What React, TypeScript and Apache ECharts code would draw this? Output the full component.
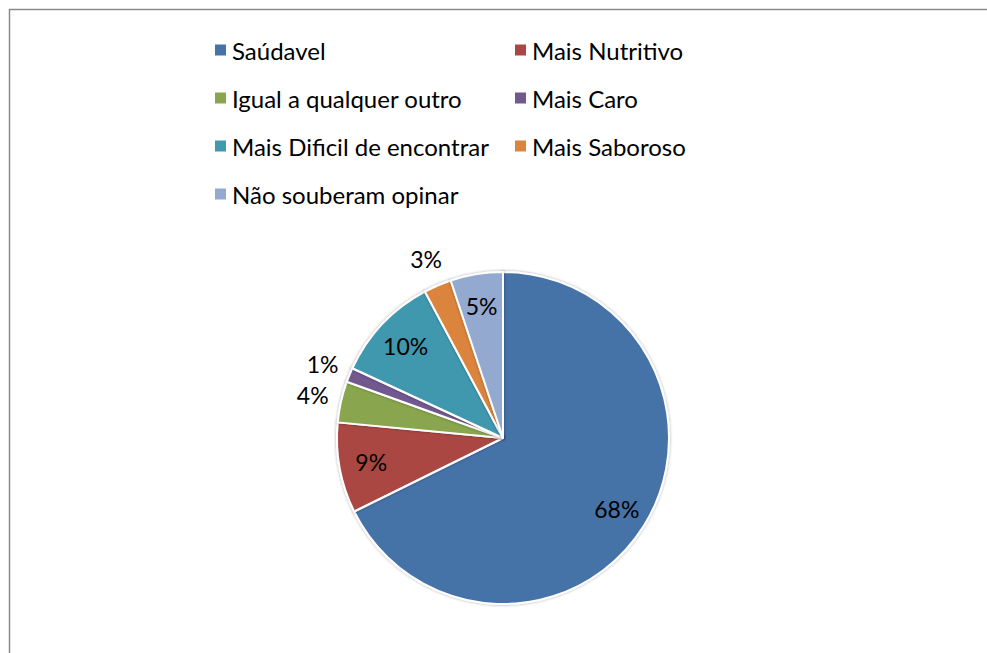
import React, { useEffect, useRef } from "react";
import * as echarts from "echarts";

const categories = [
  "Saúdavel",
  "Mais Nutritivo",
  "Igual a qualquer outro",
  "Mais Caro",
  "Mais Dificil de encontrar",
  "Mais Saboroso",
  "Não souberam opinar",
];
const values = [67.7, 8.8, 4.0, 1.4, 10.3, 2.7, 5.1];
const colors = ["#4572A7", "#AA4643", "#89A54E", "#71588F", "#4198AF", "#DB843D", "#93A9CF"];
const outsideLabelNames = ["Igual a qualquer outro", "Mais Caro", "Mais Saboroso"];
const leftLegendNames = ["Saúdavel", "Igual a qualquer outro", "Mais Dificil de encontrar", "Não souberam opinar"];
const rightLegendNames = ["Mais Nutritivo", "Mais Caro", "Mais Saboroso"];

const FONT = "Lato, 'Open Sans', sans-serif";
const CENTER: [number, number] = [503, 438];
const R = 166;

export default function App() {
  const ref = useRef<HTMLDivElement>(null);
  useEffect(() => {
    if (!ref.current) return;
    const chart = echarts.init(ref.current, undefined, { renderer: "svg" });
    const fmt = (p: any) => Math.round(p.percent) + "%";
    const baseData = categories.map((name, i) => ({
      name,
      value: values[i],
      itemStyle: { color: colors[i] },
    }));
    const overlay = (inside: boolean) =>
      categories.map((name, i) => ({
        name,
        value: values[i],
        itemStyle: { color: "rgba(0,0,0,0)", borderWidth: 0 },
        label: { show: inside ? !outsideLabelNames.includes(name) : outsideLabelNames.includes(name) },
      }));
    const legendCommon = {
      orient: "vertical" as const,
      icon: "rect",
      itemWidth: 13,
      itemHeight: 13,
      itemGap: 24,
      padding: 0,
      selectedMode: false,
      textStyle: { fontFamily: FONT, fontSize: 24, color: "#000", lineHeight: 24 },
    };
    const legendData = (names: string[]) =>
      names.map((n) => ({ name: n, itemStyle: { color: colors[categories.indexOf(n)] } }));
    const labelStyle = {
      position: "inside" as const,
      formatter: fmt,
      fontFamily: FONT,
      fontSize: 23,
      color: "#000",
    };
    chart.setOption({
      animation: false,
      backgroundColor: "#fff",
      graphic: [
        {
          type: "rect",
          shape: { x: 9.5, y: 9.5, width: 1200, height: 1200 },
          style: { fill: "none", stroke: "#8a8a8a", lineWidth: 1.5 },
          silent: true,
        },
      ],
      legend: [
        { ...legendCommon, left: 213, top: 38, data: legendData(leftLegendNames) },
        { ...legendCommon, left: 513, top: 38, data: legendData(rightLegendNames) },
      ],
      series: [
        {
          type: "pie",
          center: CENTER,
          radius: R,
          startAngle: 90,
          clockwise: true,
          avoidLabelOverlap: false,
          label: { show: false },
          labelLine: { show: false },
          itemStyle: {
            borderColor: "#fff",
            borderWidth: 2,
            shadowBlur: 3,
            shadowColor: "rgba(0,0,0,0.35)",
          },
          emphasis: { disabled: true },
          data: baseData,
        },
        {
          type: "pie",
          center: CENTER,
          radius: [96, R],
          startAngle: 90,
          silent: true,
          avoidLabelOverlap: false,
          legendHoverLink: false,
          label: labelStyle,
          labelLine: { show: false },
          emphasis: { disabled: true },
          data: overlay(true),
        },
        {
          type: "pie",
          center: CENTER,
          radius: [184, 200],
          startAngle: 90,
          silent: true,
          avoidLabelOverlap: false,
          legendHoverLink: false,
          label: labelStyle,
          labelLine: { show: false },
          emphasis: { disabled: true },
          data: overlay(false),
        },
      ],
    });
    return () => chart.dispose();
  }, []);
  return (
    <div
      ref={ref}
      style={{ position: "fixed", left: 0, top: 0, width: 987, height: 653 }}
    />
  );
}
